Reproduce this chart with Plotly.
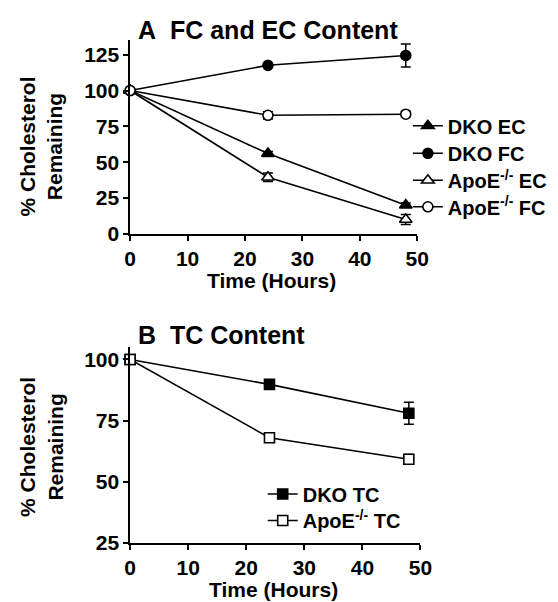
import plotly.graph_objects as go

# ---- data ----
time = [0, 24, 48]

dko_ec = [100, 56, 20]
dko_ec_err = [0, 1.5, 1.5]
dko_fc = [100, 117.6, 124.5]
dko_fc_err = [0, 1.5, 8]
apoe_ec = [100, 39.5, 10]
apoe_ec_err = [0, 3, 3.5]
apoe_fc = [100, 82.7, 83.5]
apoe_fc_err = [0, 2.5, 2]

dko_tc = [100, 89.8, 78]
dko_tc_err = [0, 1, 4.5]
apoe_tc = [100, 68, 59.2]
apoe_tc_err = [0, 1, 2]

xticks = [0, 10, 20, 30, 40, 50]
yticks_a = [0, 25, 50, 75, 100, 125]
yticks_b = [25, 50, 75, 100]

FONT = "Arial, Liberation Sans, sans-serif"
W, H = 558, 602


def px_x(p):
    return p / W


def px_y(p):
    return 1 - p / H


fig = go.Figure()


def add(x, y, err, name, symbol, fill, xa, ya, legend):
    fig.add_trace(go.Scatter(
        x=x, y=y, name=name, mode="lines+markers",
        line=dict(color="black", width=1.6),
        marker=dict(symbol=symbol, size=11 if "triangle" in symbol else 10,
                    color="black" if fill else "white",
                    line=dict(color="black", width=1.6)),
        error_y=dict(type="data", array=err, visible=True, color="black",
                     thickness=1.5, width=5),
        xaxis=xa, yaxis=ya, legend=legend, cliponaxis=False,
    ))


add(time, dko_ec, dko_ec_err, "<b>DKO EC</b>", "triangle-up", True, "x", "y", "legend")
add(time, dko_fc, dko_fc_err, "<b>DKO FC</b>", "circle", True, "x", "y", "legend2")
add(time, apoe_ec, apoe_ec_err, "<b>ApoE<sup>-/-</sup> EC</b>", "triangle-up", False, "x", "y", "legend3")
add(time, apoe_fc, apoe_fc_err, "<b>ApoE<sup>-/-</sup> FC</b>", "circle", False, "x", "y", "legend4")
add(time, dko_tc, dko_tc_err, "<b>DKO TC</b>", "square", True, "x2", "y2", "legend5")
add(time, apoe_tc, apoe_tc_err, "<b>ApoE<sup>-/-</sup> TC</b>", "square", False, "x2", "y2", "legend6")

axis_common = dict(
    showline=True, linecolor="black", linewidth=1.5, showgrid=False, zeroline=False,
    ticks="outside", ticklen=5, tickwidth=1.5, tickcolor="black",
    tickfont=dict(family=FONT, size=21, color="black", weight="bold"),
)

leg_font = dict(family=FONT, size=20, color="black")


def leg(xp, yp):
    return dict(x=px_x(xp), y=px_y(yp), xanchor="left", yanchor="middle",
                bgcolor="rgba(0,0,0,0)", font=leg_font, borderwidth=0)


fig.update_layout(
    width=W, height=H, margin=dict(l=0, r=0, t=0, b=0),
    plot_bgcolor="white", paper_bgcolor="white",
    showlegend=True,
    xaxis=dict(domain=[px_x(120), px_x(416.7)], range=[0, 50], tickvals=xticks,
               anchor="y", **axis_common),
    yaxis=dict(domain=[px_y(230), px_y(33)], range=[0, 135], tickvals=yticks_a,
               anchor="x", **axis_common),
    xaxis2=dict(domain=[px_x(120), px_x(420)], range=[0, 50], tickvals=xticks,
                anchor="y2", **axis_common),
    yaxis2=dict(domain=[px_y(545), px_y(345)], range=[25, 105.2], tickvals=yticks_b,
                anchor="x2", **axis_common),
    legend=leg(407, 120),
    legend2=leg(407, 148),
    legend3=leg(407, 175.5),
    legend4=leg(407, 202.5),
    legend5=leg(257, 495),
    legend6=leg(257, 522),
)

ann_font = dict(family=FONT, size=21, color="black")
title_font = dict(family=FONT, size=25, color="black")
annotations = [
    dict(text="<b>A&nbsp;&nbsp;FC and EC Content</b>", x=px_x(126), y=px_y(22), xanchor="left",
         yanchor="middle", font=title_font),
    dict(text="<b>B&nbsp;&nbsp;TC Content</b>", x=px_x(126), y=px_y(333), xanchor="left",
         yanchor="middle", font=title_font),
    dict(text="<b>Time (Hours)</b>", x=px_x(266), y=px_y(278), xanchor="center",
         yanchor="middle", font=ann_font),
    dict(text="<b>Time (Hours)</b>", x=px_x(268), y=px_y(592), xanchor="center",
         yanchor="middle", font=ann_font),
    dict(text="<b>% Cholesterol<br>Remaining</b>", x=px_x(28), y=px_y(141), textangle=-90,
         xanchor="center", yanchor="middle", font=ann_font),
    dict(text="<b>% Cholesterol<br>Remaining</b>", x=px_x(28), y=px_y(447), textangle=-90,
         xanchor="center", yanchor="middle", font=ann_font),
]
for a in annotations:
    a.update(xref="paper", yref="paper", showarrow=False)
fig.update_layout(annotations=annotations)

fig.write_html("out.html")
